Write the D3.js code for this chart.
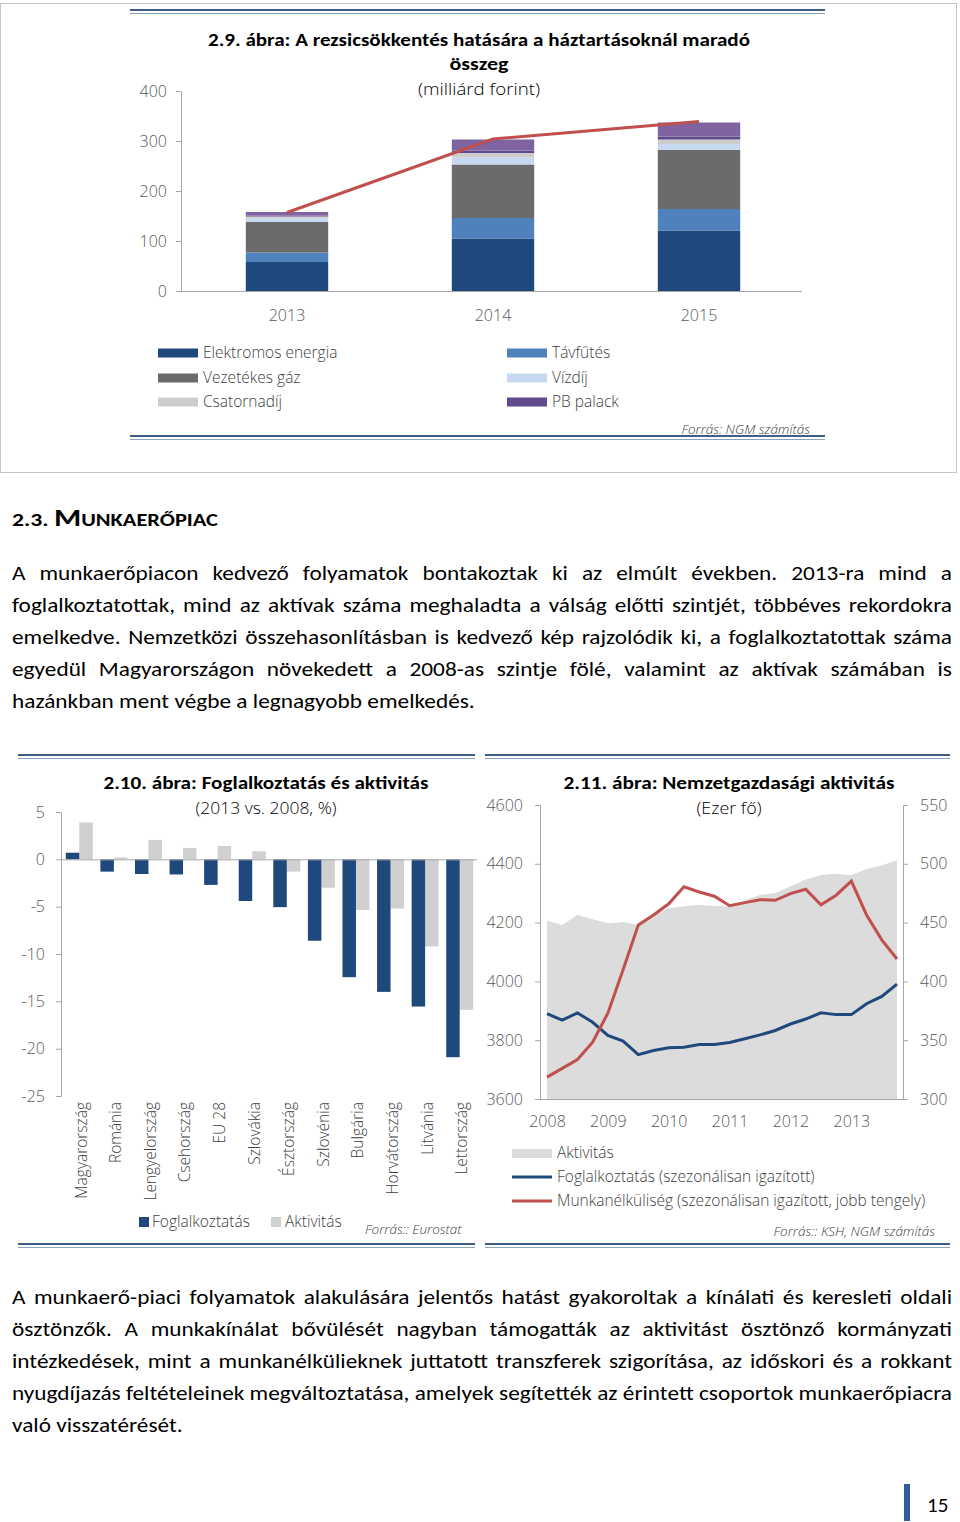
<!DOCTYPE html>
<html><head><meta charset="utf-8">
<script src="https://cdn.jsdelivr.net/npm/d3@7"></script>
<style>
body{margin:0;background:#fff;}
svg{display:block;}
</style></head><body>
<script>
// ===== DATA =====
// 2.9 chart
const years = ["2013","2014","2015"];
const seriesNames = ["Elektromos energia","Távfűtés","Vezetékes gáz","Vízdíj","Csatornadíj","PB palack","Egyéb"];
const elektromos = [58,105,121];
const tavfutes = [19,41,43];
const gaz = [61,107,118];
const vizdij = [7,14,12];
const csatornadij = [4,9,9];
const pbPalack = [2,5,6];
const egyeb = [7,22,28];
const osszesen = [157,304,339];
const ticks29 = [0,100,200,300,400];

// 2.10 chart
const countries = ["Magyarország","Románia","Lengyelország","Csehország","EU 28","Szlovákia","Észtország","Szlovénia","Bulgária","Horvátország","Litvánia","Lettország"];
const foglalkoztatas210 = [0.7,-1.3,-1.55,-1.6,-2.7,-4.4,-5.05,-8.6,-12.45,-14.0,-15.55,-20.9];
const aktivitas210 = [3.9,0.2,2.05,1.2,1.4,0.85,-1.3,-3.0,-5.35,-5.2,-9.2,-15.9];
const ticks210 = [5,0,-5,-10,-15,-20,-25];

// 2.11 chart (quarterly, 2008 Q1 - 2013 Q4)
const tickYears = ["2008","2009","2010","2011","2012","2013"];
const quarterNames = ["I.","II.","III.","IV."];
const aktivitas211 = [4206,4192,4226,4211,4198,4202,4193,4227,4249,4256,4260,4257,4255,4276,4294,4301,4324,4347,4362,4366,4361,4382,4395,4411];
const foglalkoztatas211 = [3890,3868,3893,3861,3816,3797,3751,3765,3774,3776,3785,3785,3792,3805,3818,3833,3855,3872,3893,3887,3887,3924,3949,3991];
const munkanelkuliseg211 = [318.6,326,333.6,348.3,373,410,448,456.5,466,480.5,476,472.4,464.4,467,469.5,469,474.7,478.4,465.2,473.3,485.3,456.5,435.3,419];
const ticksLeft211 = [3600,3800,4000,4200,4400,4600];
const ticksRight211 = [300,350,400,450,500,550];

// body text
const heading = ["2.3. ","M","UNKAERŐPIAC"];
const para1 = [
"A munkaerőpiacon kedvező folyamatok bontakoztak ki az elmúlt években. 2013-ra mind a",
"foglalkoztatottak, mind az aktívak száma meghaladta a válság előtti szintjét, többéves rekordokra",
"emelkedve. Nemzetközi összehasonlításban is kedvező kép rajzolódik ki, a foglalkoztatottak száma",
"egyedül Magyarországon növekedett a 2008-as szintje fölé, valamint az aktívak számában is",
"hazánkban ment végbe a legnagyobb emelkedés."];
const para2 = [
"A munkaerő-piaci folyamatok alakulására jelentős hatást gyakoroltak a kínálati és keresleti oldali",
"ösztönzők. A munkakínálat bővülését nagyban támogatták az aktivitást ösztönző kormányzati",
"intézkedések, mint a munkanélkülieknek juttatott transzferek szigorítása, az időskori és a rokkant",
"nyugdíjazás feltételeinek megváltoztatása, amelyek segítették az érintett csoportok munkaerőpiacra",
"való visszatérését."];
const pageNumber = "15";

// ===== STYLE =====
const BODY = "Carlito, Lato, 'Liberation Sans Narrow', sans-serif";
const UI = "'Open Sans', 'Noto Sans', sans-serif";
const colors29 = ["#1f497d","#4f81bd","#6b6b6b","#c6d9f1","#cdcdcd","#5f4b8b","#8064a2"];
const AXIS = "#a6a6a6", TICKTXT = "#595959", LEG = "#404040";
const plain = d => String(d);

const svg = d3.select("body").append("svg").attr("width",960).attr("height",1522);

function rule(xa,xb,y){
  svg.append("line").attr("x1",xa).attr("x2",xb).attr("y1",y).attr("y2",y).attr("stroke","#3f5f85").attr("stroke-width",2.2);
  svg.append("line").attr("x1",xa).attr("x2",xb).attr("y1",y+3.5).attr("y2",y+3.5).attr("stroke","#8aa2bf").attr("stroke-width",1);
}
function fitText(sel,w){ sel.attr("textLength",w).attr("lengthAdjust","spacingAndGlyphs"); return sel; }
function styleAxis(g,fs){
  g.selectAll(".domain").attr("stroke",AXIS);
  g.selectAll(".tick line").attr("stroke",AXIS);
  g.selectAll(".tick text").attr("fill",TICKTXT).attr("font-family",UI).attr("font-weight",300).attr("font-size",fs);
}

// ===== CHART 2.9 =====
svg.append("rect").attr("x",0.5).attr("y",3.5).attr("width",956).attr("height",469).attr("fill","none").attr("stroke","#c4c4c4");
rule(130,825,10);
rule(130,825,436);
fitText(svg.append("text").attr("x",479).attr("y",46).attr("text-anchor","middle").attr("font-family",BODY).attr("font-weight","bold").attr("font-size",19).text("2.9. ábra: A rezsicsökkentés hatására a háztartásoknál maradó"),542);
fitText(svg.append("text").attr("x",479).attr("y",70).attr("text-anchor","middle").attr("font-family",BODY).attr("font-weight","bold").attr("font-size",19).text("összeg"),59);
fitText(svg.append("text").attr("x",479).attr("y",95).attr("text-anchor","middle").attr("font-family",UI).attr("font-weight",300).attr("font-size",17).attr("fill","#000").text("(milliárd forint)"),122);

const x29 = d3.scaleBand().domain(years).range([184,802]).paddingInner(0.6).paddingOuter(0.3);
const y29 = d3.scaleLinear().domain([0,400]).range([291,91]);
const seriesArrays = [elektromos,tavfutes,gaz,vizdij,csatornadij,pbPalack,egyeb];
const rows29 = years.map((yr,i)=>{const o={year:yr}; seriesNames.forEach((s,k)=>o[s]=seriesArrays[k][i]); return o;});
const stacked = d3.stack().keys(seriesNames)(rows29);
svg.append("g").selectAll("g").data(stacked).join("g").attr("fill",(d,i)=>colors29[i])
  .selectAll("rect").data(d=>d).join("rect")
  .attr("x",d=>x29(d.data.year)).attr("width",x29.bandwidth())
  .attr("y",d=>y29(d[1])).attr("height",d=>y29(d[0])-y29(d[1]));
const ax29 = svg.append("g").attr("transform","translate(181,0)")
  .call(d3.axisLeft(y29).tickValues(ticks29).tickFormat(plain).tickSize(5).tickSizeOuter(0).tickPadding(9));
styleAxis(ax29,16);
const bx29 = svg.append("g").attr("transform","translate(0,291)")
  .call(d3.axisBottom(x29).tickSize(0).tickPadding(19));
bx29.select(".domain").attr("d","M181,0.5H802");
styleAxis(bx29,16);
svg.append("path").datum(osszesen.map((v,i)=>({year:years[i],v})))
  .attr("fill","none").attr("stroke","#c0504d").attr("stroke-width",3)
  .attr("d",d3.line().x(d=>x29(d.year)+x29.bandwidth()/2).y(d=>y29(d.v)));
// legend (6 named series)
const legCols=[158,507], legRows=[353,378,402];
seriesNames.slice(0,6).forEach((s,i)=>{
  const cx=legCols[i%2], cy=legRows[Math.floor(i/2)];
  svg.append("rect").attr("x",cx).attr("y",cy-4.5).attr("width",40).attr("height",9).attr("fill",colors29[i]);
  svg.append("text").attr("x",cx+45).attr("y",cy).attr("dy","0.35em").attr("font-family",UI).attr("font-weight",300).attr("font-size",15.5).attr("fill",LEG).text(s);
});
svg.append("text").attr("x",810).attr("y",434).attr("text-anchor","end").attr("font-family",UI).attr("font-style","italic").attr("font-weight",300).attr("font-size",13.5).attr("fill",LEG).text("Forrás: NGM számítás");

// ===== HEADING + PARAGRAPHS =====
const bodyG = svg.append("g").attr("font-family",BODY).attr("font-size",20.5).attr("fill","#000");
const probe = bodyG.append("text").text("a a");
const wAA = probe.node().getComputedTextLength(); probe.text("aa");
const spaceW = wAA - probe.node().getComputedTextLength();
function natural(line){ probe.text(line); return probe.node().getComputedTextLength(); }
const sx = 940 / natural(para2[3]);
probe.remove();
const inner = bodyG.append("g").attr("transform",`translate(12,0) scale(${sx},1)`);
const Wt = 940/sx;
function writePara(lines,y0){
  lines.forEach((line,li)=>{
    const words = line.split(" ");
    const y = y0 + li*32;
    const els = words.map(w=>inner.append("text").attr("y",y).text(w));
    const ws = els.map(e=>e.node().getComputedTextLength());
    const sum = d3.sum(ws);
    const last = li===lines.length-1;
    const gap = last ? spaceW : (Wt-sum)/(words.length-1);
    let x=0;
    els.forEach((e,k)=>{ e.attr("x",x); x+=ws[k]+gap; });
  });
}
writePara(para1,580);
writePara(para2,1304);
const hd = svg.append("text").attr("x",12).attr("y",526).attr("font-weight","bold").attr("font-family",BODY).attr("fill","#000");
hd.append("tspan").attr("font-size",19).text(heading[0]);
hd.append("tspan").attr("font-size",25).text(heading[1]);
hd.append("tspan").attr("font-size",18).text(heading[2]);
fitText(hd,206);

// page number
svg.append("rect").attr("x",904).attr("y",1484).attr("width",6).attr("height",37).attr("fill","#2f5d9b");
svg.append("text").attr("x",927).attr("y",1512).attr("font-family",BODY).attr("font-size",21).attr("fill","#000").text(pageNumber);

// ===== CHART 2.10 =====
rule(18,475,755);
rule(18,475,1244);
fitText(svg.append("text").attr("x",266).attr("y",789).attr("text-anchor","middle").attr("font-family",BODY).attr("font-weight","bold").attr("font-size",19).text("2.10. ábra: Foglalkoztatás és aktivitás"),325);
fitText(svg.append("text").attr("x",266).attr("y",814).attr("text-anchor","middle").attr("font-family",UI).attr("font-weight",300).attr("font-size",17).attr("fill","#000").text("(2013 vs. 2008, %)"),141);
const x210 = d3.scaleBand().domain(countries).range([62,477]).paddingInner(0.22).paddingOuter(0.11);
const y210 = d3.scaleLinear().domain([-25,5]).range([1096,812]);
const bw = x210.bandwidth()/2;
svg.append("g").attr("fill","#d0d0d0").selectAll("rect").data(aktivitas210).join("rect")
  .attr("x",(d,i)=>x210(countries[i])+bw).attr("width",bw)
  .attr("y",d=>y210(Math.max(0,d))).attr("height",d=>Math.abs(y210(d)-y210(0)));
svg.append("g").attr("fill","#1f497d").selectAll("rect").data(foglalkoztatas210).join("rect")
  .attr("x",(d,i)=>x210(countries[i])).attr("width",bw)
  .attr("y",d=>y210(Math.max(0,d))).attr("height",d=>Math.abs(y210(d)-y210(0)));
const ax210 = svg.append("g").attr("transform","translate(61,0)")
  .call(d3.axisLeft(y210).tickValues(ticks210).tickFormat(plain).tickSize(5).tickSizeOuter(5).tickPadding(11));
styleAxis(ax210,16);
svg.append("line").attr("x1",61).attr("x2",477).attr("y1",y210(0)+0.5).attr("y2",y210(0)+0.5).attr("stroke",AXIS);
svg.append("g").selectAll("text").data(countries).join("text")
  .attr("transform",d=>`translate(${x210(d)+x210.bandwidth()/2+2},1102) rotate(-90)`)
  .attr("text-anchor","end").attr("dy","0.35em")
  .attr("font-family",UI).attr("font-weight",300).attr("font-size",15.5).attr("fill",LEG).text(d=>d);
svg.append("rect").attr("x",139).attr("y",1217).attr("width",10).attr("height",10).attr("fill","#1f497d");
svg.append("text").attr("x",152).attr("y",1222).attr("dy","0.35em").attr("font-family",UI).attr("font-weight",300).attr("font-size",15.5).attr("fill",LEG).text("Foglalkoztatás");
svg.append("rect").attr("x",271).attr("y",1217).attr("width",10).attr("height",10).attr("fill","#d0d0d0");
svg.append("text").attr("x",285).attr("y",1222).attr("dy","0.35em").attr("font-family",UI).attr("font-weight",300).attr("font-size",15.5).attr("fill",LEG).text("Aktivitás");
svg.append("text").attr("x",365).attr("y",1234).attr("font-family",UI).attr("font-style","italic").attr("font-weight",300).attr("font-size",13.5).attr("fill",LEG).text("Forrás:: Eurostat");

// ===== CHART 2.11 =====
rule(485,950,755);
rule(485,950,1244);
fitText(svg.append("text").attr("x",729).attr("y",789).attr("text-anchor","middle").attr("font-family",BODY).attr("font-weight","bold").attr("font-size",19).text("2.11. ábra: Nemzetgazdasági aktivitás"),331);
fitText(svg.append("text").attr("x",729).attr("y",814).attr("text-anchor","middle").attr("font-family",UI).attr("font-weight",300).attr("font-size",17).attr("fill","#000").text("(Ezer fő)"),65);
const quarters = tickYears.flatMap(y=>quarterNames.map(q=>y+" "+q));
const x211 = d3.scalePoint().domain(quarters).range([547,897]);
const yl = d3.scaleLinear().domain([3600,4600]).range([1099,805]);
const yr = d3.scaleLinear().domain([300,550]).range([1099,805]);
svg.append("path").datum(aktivitas211).attr("fill","#dcdcdc")
  .attr("d",d3.area().x((d,i)=>x211(quarters[i])).y0(yl(3600)).y1(d=>yl(d)));
svg.append("path").datum(foglalkoztatas211).attr("fill","none").attr("stroke","#1f497d").attr("stroke-width",3)
  .attr("d",d3.line().x((d,i)=>x211(quarters[i])).y(d=>yl(d)));
svg.append("path").datum(munkanelkuliseg211).attr("fill","none").attr("stroke","#c0504d").attr("stroke-width",3)
  .attr("d",d3.line().x((d,i)=>x211(quarters[i])).y(d=>yr(d)));
const al = svg.append("g").attr("transform","translate(540,0)")
  .call(d3.axisLeft(yl).tickValues(ticksLeft211).tickFormat(plain).tickSize(5).tickSizeOuter(5).tickPadding(12));
styleAxis(al,16);
const ar = svg.append("g").attr("transform","translate(903,0)")
  .call(d3.axisRight(yr).tickValues(ticksRight211).tickFormat(plain).tickSize(5).tickSizeOuter(5).tickPadding(12));
styleAxis(ar,16);
const ab = svg.append("g").attr("transform","translate(0,1099)")
  .call(d3.axisBottom(x211).tickValues(quarters.filter(q=>q.endsWith(" I."))).tickFormat(q=>q.split(" ")[0]).tickSize(0).tickPadding(17));
ab.select(".domain").attr("d","M540,0.5H903");
styleAxis(ab,16);
// legend
svg.append("rect").attr("x",512).attr("y",1149).attr("width",40).attr("height",9).attr("fill","#dcdcdc");
svg.append("text").attr("x",557).attr("y",1153).attr("dy","0.35em").attr("font-family",UI).attr("font-weight",300).attr("font-size",15.5).attr("fill",LEG).text("Aktivitás");
svg.append("line").attr("x1",512).attr("x2",552).attr("y1",1177).attr("y2",1177).attr("stroke","#1f497d").attr("stroke-width",3);
svg.append("text").attr("x",557).attr("y",1177).attr("dy","0.35em").attr("font-family",UI).attr("font-weight",300).attr("font-size",15.5).attr("fill",LEG).text("Foglalkoztatás (szezonálisan igazított)");
svg.append("line").attr("x1",512).attr("x2",552).attr("y1",1201).attr("y2",1201).attr("stroke","#c0504d").attr("stroke-width",3);
svg.append("text").attr("x",557).attr("y",1201).attr("dy","0.35em").attr("font-family",UI).attr("font-weight",300).attr("font-size",15.5).attr("fill",LEG).text("Munkanélküliség (szezonálisan igazított, jobb tengely)");
svg.append("text").attr("x",935).attr("y",1236).attr("text-anchor","end").attr("font-family",UI).attr("font-style","italic").attr("font-weight",300).attr("font-size",13.5).attr("fill",LEG).text("Forrás:: KSH, NGM számítás");
</script>
</body></html>
